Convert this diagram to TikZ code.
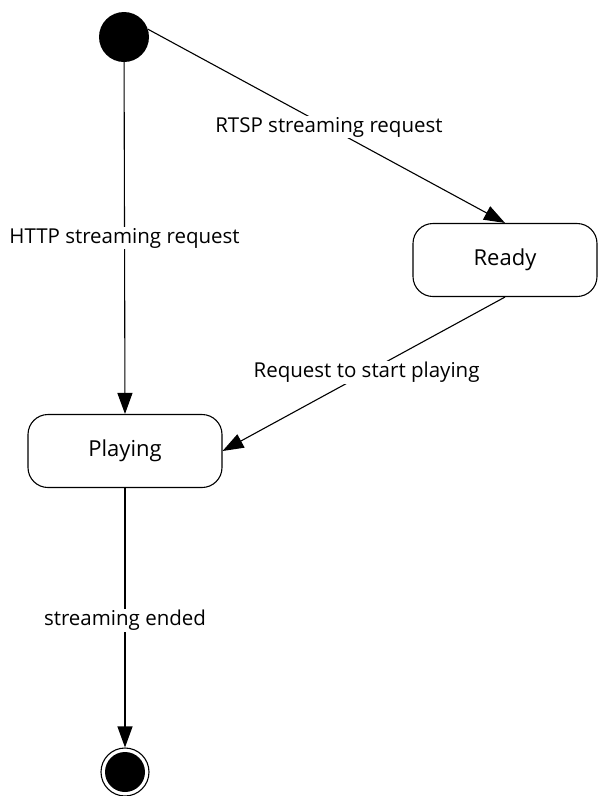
\documentclass[tikz,border=0pt]{standalone}
\usepackage{fontspec}
\setmainfont{Open Sans}
\usetikzlibrary{arrows.meta}
\begin{document}
\begin{tikzpicture}[x=1pt,y=-1pt,
  state/.style={draw, line width=1.1pt, rounded corners=20pt, minimum height=73pt, font=\fontsize{22}{26}\selectfont, inner sep=0pt},
  lbl/.style={fill=white, font=\fontsize{20.5}{24}\selectfont, inner sep=1pt},
  arr/.style={line width=1.1pt, -{Triangle[length=21pt,width=15pt]}}]
\useasboundingbox (0,0) rectangle (600,796);
\node[circle, fill=black, minimum size=50pt, inner sep=0pt] (start) at (124,37) {};
\node[state, minimum width=184pt] (ready) at (505,260) {Ready};
\node[state, minimum width=194pt] (playing) at (125,451) {Playing};
\node[circle, draw, line width=1.1pt, minimum size=48pt, inner sep=0pt] (end) at (125,772) {};
\node[circle, fill=black, minimum size=40pt, inner sep=0pt] (endin) at (125,772) {};
\draw[arr] (start.18) -- node[lbl, pos=0.507] {RTSP streaming request} (ready.north);
\draw[arr] (start) -- node[lbl, pos=0.50] {HTTP streaming request} (playing.north);
\draw[arr] (ready.south) -- node[lbl, pos=0.49] {Request to start playing} (playing.east);
\draw[arr] (playing.south) -- node[lbl, pos=0.51] {streaming ended} (end.north);
\end{tikzpicture}
\end{document}
